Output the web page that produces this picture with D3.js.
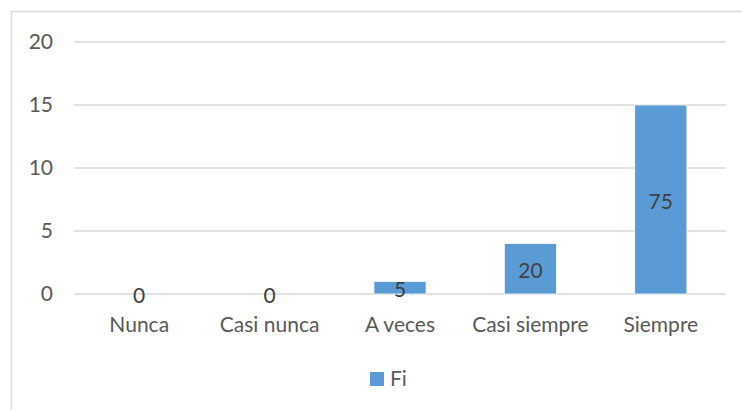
<!DOCTYPE html>
<html>
<head>
<meta charset="utf-8">
<script src="https://cdn.jsdelivr.net/npm/d3@7"></script>
<style>
  body { margin: 0; background: #fff; }
  text { font-family: Lato, "Open Sans", sans-serif; }
</style>
</head>
<body>
<div id="chart"></div>
<script>
const categories = ['Nunca', 'Casi nunca', 'A veces', 'Casi siempre', 'Siempre'];
const fiValues = [0, 0, 1, 4, 15];
const pctLabels = ['0', '0', '5', '20', '75'];
const yTicks = [0, 5, 10, 15, 20];
const seriesName = 'Fi';

const width = 742, height = 410;
const margin = {top: 42, right: 16, bottom: 116, left: 74};
const visWidth = width - margin.left - margin.right;
const visHeight = height - margin.top - margin.bottom;
const fontSize = 21;

const svg = d3.select('#chart')
  .append('svg')
    .attr('width', width)
    .attr('height', height);

// chart border
svg.append('rect')
    .attr('x', 11.5).attr('y', 11.5)
    .attr('width', width).attr('height', height)
    .attr('fill', 'none')
    .attr('stroke', '#d9d9d9')
    .attr('stroke-width', 1.5);

const g = svg.append('g')
    .attr('transform', `translate(${margin.left},${margin.top})`);

const x = d3.scaleBand()
    .domain(categories)
    .range([0, visWidth])
    .paddingInner(0.6)
    .paddingOuter(0.3);

const y = d3.scaleLinear()
    .domain([0, 20])
    .range([visHeight, 0]);

// gridlines
g.append('g')
  .selectAll('line')
  .data(yTicks)
  .join('line')
    .attr('x1', 0).attr('x2', visWidth)
    .attr('y1', d => y(d)).attr('y2', d => y(d))
    .attr('stroke', '#d9d9d9')
    .attr('stroke-width', 1.5);

const yAxis = d3.axisLeft(y).tickValues(yTicks).tickSize(0).tickPadding(21);
g.append('g')
    .call(yAxis)
    .call(g => g.select('.domain').remove())
    .call(g => g.selectAll('text')
        .attr('fill', '#595959')
        .attr('font-size', fontSize)
        .attr('font-family', 'Lato, sans-serif'));

const xAxis = d3.axisBottom(x).tickSize(0).tickPadding(23);
g.append('g')
    .attr('transform', `translate(0,${visHeight})`)
    .call(xAxis)
    .call(g => g.select('.domain').remove())
    .call(g => g.selectAll('text')
        .attr('fill', '#595959')
        .attr('font-size', fontSize)
        .attr('font-family', 'Lato, sans-serif'));

// bars
g.selectAll('.bar')
  .data(fiValues)
  .join('rect')
    .attr('class', 'bar')
    .attr('x', (d, i) => x(categories[i]))
    .attr('y', d => y(d))
    .attr('width', x.bandwidth())
    .attr('height', d => y(0) - y(d))
    .attr('fill', '#5b9bd5')
    .attr('stroke', '#fff')
    .attr('stroke-width', 0.75);

// value labels centered in bar
g.selectAll('.lbl')
  .data(fiValues)
  .join('text')
    .attr('class', 'lbl')
    .attr('x', (d, i) => x(categories[i]) + x.bandwidth() / 2)
    .attr('y', d => (y(d) + y(0)) / 2 + 2)
    .attr('dy', '0.35em')
    .attr('text-anchor', 'middle')
    .attr('fill', '#404040')
    .attr('font-size', fontSize)
    .text((d, i) => pctLabels[i]);

// legend
const legend = svg.append('g')
    .attr('transform', 'translate(370,372)');
legend.append('rect')
    .attr('width', 14).attr('height', 14)
    .attr('fill', '#5b9bd5');
legend.append('text')
    .attr('x', 20).attr('y', 7)
    .attr('dy', '0.35em')
    .attr('fill', '#595959')
    .attr('font-size', fontSize)
    .text(seriesName);
</script>
</body>
</html>
